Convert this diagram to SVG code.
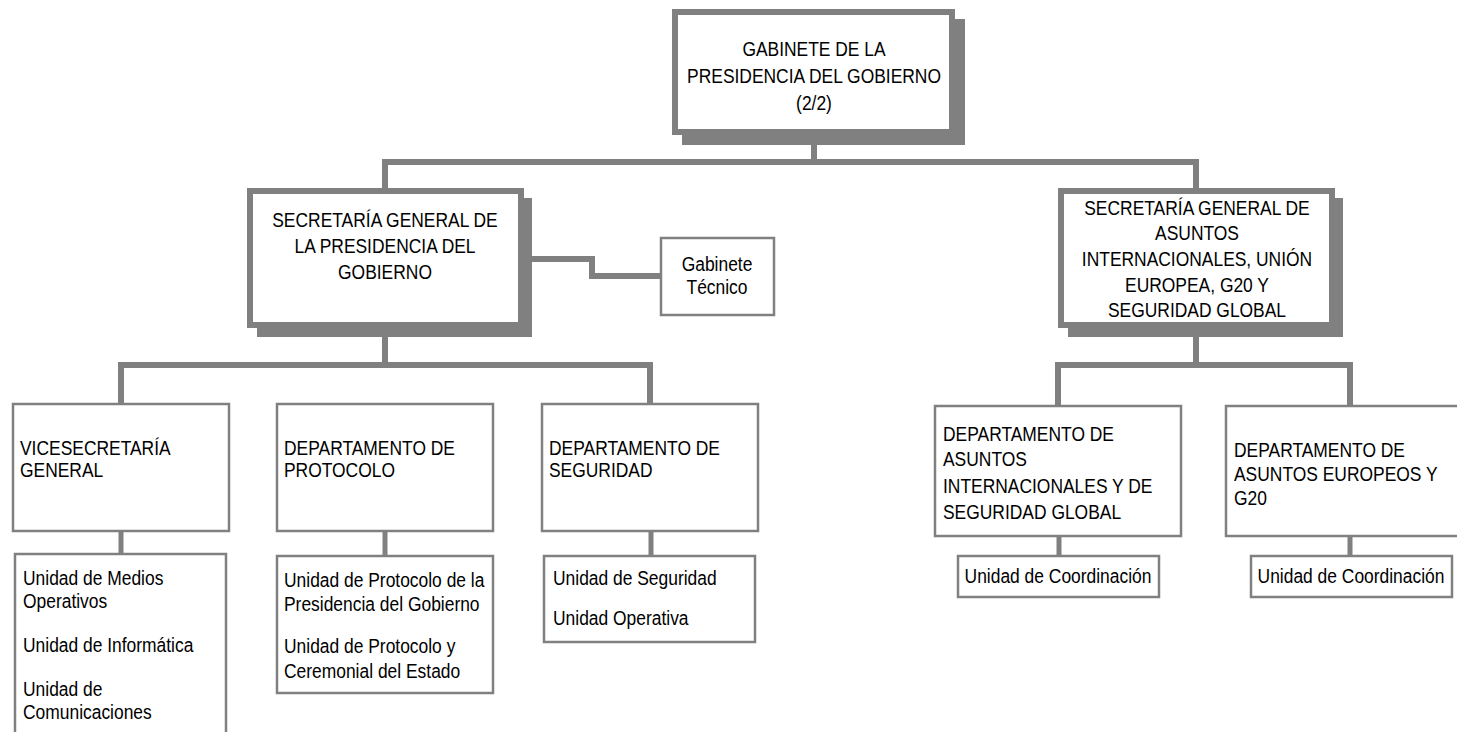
<svg xmlns="http://www.w3.org/2000/svg" width="1457" height="732" viewBox="0 0 1457 732">
<style>
.thick{fill:#fff;stroke:#808080;stroke-width:6}
.shadow{fill:#808080}
.box{fill:#fff;stroke:#808080;stroke-width:2.5}
.conn{fill:none;stroke:#808080;stroke-width:6}
.conn2{fill:none;stroke:#808080;stroke-width:5}
text{font-family:"Liberation Sans",Arial,sans-serif;font-size:21px;fill:#000}
.c{text-anchor:middle}
</style>
<rect width="1457" height="732" fill="#fff"/>
<g id="connectors">
<path class="conn" d="M814 140V162M385 188V162H1196V188"/>
<path class="conn" d="M532 259H592V276H660"/>
<path class="conn" d="M385 330V365M121 403V365H650V403"/>
<path class="conn" d="M1196 330V365M1058 405V365H1350V405"/>
<path class="conn2" d="M121 530V555M385 530V556M651 530V556M1059 534V556M1350 534V556"/>
</g>
<g id="n-gabinete">
<rect class="shadow" x="682" y="19" width="283" height="126"/>
<rect class="thick" x="675" y="12" width="277" height="120"/>
<text class="c" transform="matrix(.83 0 0 1 814 56)">GABINETE DE LA</text>
<text class="c" transform="matrix(.83 0 0 1 814 83)">PRESIDENCIA DEL GOBIERNO</text>
<text class="c" transform="matrix(.83 0 0 1 814 110)">(2/2)</text>
</g>
<g id="n-sg-presidencia">
<rect class="shadow" x="257" y="198" width="275" height="139"/>
<rect class="thick" x="250" y="191" width="271" height="134"/>
<text class="c" transform="matrix(.83 0 0 1 385 227)">SECRETARÍA GENERAL DE</text>
<text class="c" transform="matrix(.83 0 0 1 385 253)">LA PRESIDENCIA DEL</text>
<text class="c" transform="matrix(.83 0 0 1 385 279)">GOBIERNO</text>
</g>
<g id="n-gabinete-tecnico">
<rect class="box" x="661" y="238" width="113" height="77"/>
<text class="c" transform="matrix(.83 0 0 1 717 271)">Gabinete</text>
<text class="c" transform="matrix(.83 0 0 1 717 294)">Técnico</text>
</g>
<g id="n-sg-asuntos">
<rect class="shadow" x="1068" y="198" width="275" height="139"/>
<rect class="thick" x="1061" y="191" width="271" height="134"/>
<text class="c" transform="matrix(.83 0 0 1 1197 215)">SECRETARÍA GENERAL DE</text>
<text class="c" transform="matrix(.83 0 0 1 1197 240)">ASUNTOS</text>
<text class="c" transform="matrix(.83 0 0 1 1197 266)">INTERNACIONALES, UNIÓN</text>
<text class="c" transform="matrix(.83 0 0 1 1197 292)">EUROPEA, G20 Y</text>
<text class="c" transform="matrix(.83 0 0 1 1197 317)">SEGURIDAD GLOBAL</text>
</g>
<g id="n-vicesecretaria">
<rect class="box" x="13" y="404" width="216" height="127"/>
<text transform="matrix(.83 0 0 1 20 455)">VICESECRETARÍA</text>
<text transform="matrix(.83 0 0 1 20 477)">GENERAL</text>
</g>
<g id="n-vice-unidades">
<rect class="box" x="15" y="554" width="211" height="200"/>
<text transform="matrix(.83 0 0 1 23 585)">Unidad de Medios</text>
<text transform="matrix(.83 0 0 1 23 608)">Operativos</text>
<text transform="matrix(.83 0 0 1 23 652)">Unidad de Informática</text>
<text transform="matrix(.83 0 0 1 23 696)">Unidad de</text>
<text transform="matrix(.83 0 0 1 23 719)">Comunicaciones</text>
</g>
<g id="n-protocolo">
<rect class="box" x="277" y="404" width="216" height="127"/>
<text transform="matrix(.83 0 0 1 284 455)">DEPARTAMENTO DE</text>
<text transform="matrix(.83 0 0 1 284 477)">PROTOCOLO</text>
</g>
<g id="n-protocolo-unidades">
<rect class="box" x="277" y="556" width="216" height="137"/>
<text transform="matrix(.83 0 0 1 284 587)">Unidad de Protocolo de la</text>
<text transform="matrix(.83 0 0 1 284 611)">Presidencia del Gobierno</text>
<text transform="matrix(.83 0 0 1 284 653)">Unidad de Protocolo y</text>
<text transform="matrix(.83 0 0 1 284 678)">Ceremonial del Estado</text>
</g>
<g id="n-seguridad">
<rect class="box" x="542" y="404" width="216" height="127"/>
<text transform="matrix(.83 0 0 1 549 455)">DEPARTAMENTO DE</text>
<text transform="matrix(.83 0 0 1 549 477)">SEGURIDAD</text>
</g>
<g id="n-seguridad-unidades">
<rect class="box" x="544" y="556" width="211" height="86"/>
<text transform="matrix(.83 0 0 1 553 585)">Unidad de Seguridad</text>
<text transform="matrix(.83 0 0 1 553 625)">Unidad Operativa</text>
</g>
<g id="n-asuntos-int">
<rect class="box" x="935" y="406" width="246" height="130"/>
<text transform="matrix(.83 0 0 1 943 441)">DEPARTAMENTO DE</text>
<text transform="matrix(.83 0 0 1 943 466)">ASUNTOS</text>
<text transform="matrix(.83 0 0 1 943 493)">INTERNACIONALES Y DE</text>
<text transform="matrix(.83 0 0 1 943 519)">SEGURIDAD GLOBAL</text>
</g>
<g id="n-asuntos-int-unidad">
<rect class="box" x="958" y="556" width="201" height="41"/>
<text class="c" transform="matrix(.83 0 0 1 1058 583)">Unidad de Coordinación</text>
</g>
<g id="n-asuntos-eur">
<rect class="box" x="1226" y="406" width="240" height="130"/>
<text transform="matrix(.83 0 0 1 1234 457)">DEPARTAMENTO DE</text>
<text transform="matrix(.83 0 0 1 1234 481)">ASUNTOS EUROPEOS Y</text>
<text transform="matrix(.83 0 0 1 1234 505)">G20</text>
</g>
<g id="n-asuntos-eur-unidad">
<rect class="box" x="1251" y="556" width="201" height="41"/>
<text class="c" transform="matrix(.83 0 0 1 1351 583)">Unidad de Coordinación</text>
</g>
</svg>
